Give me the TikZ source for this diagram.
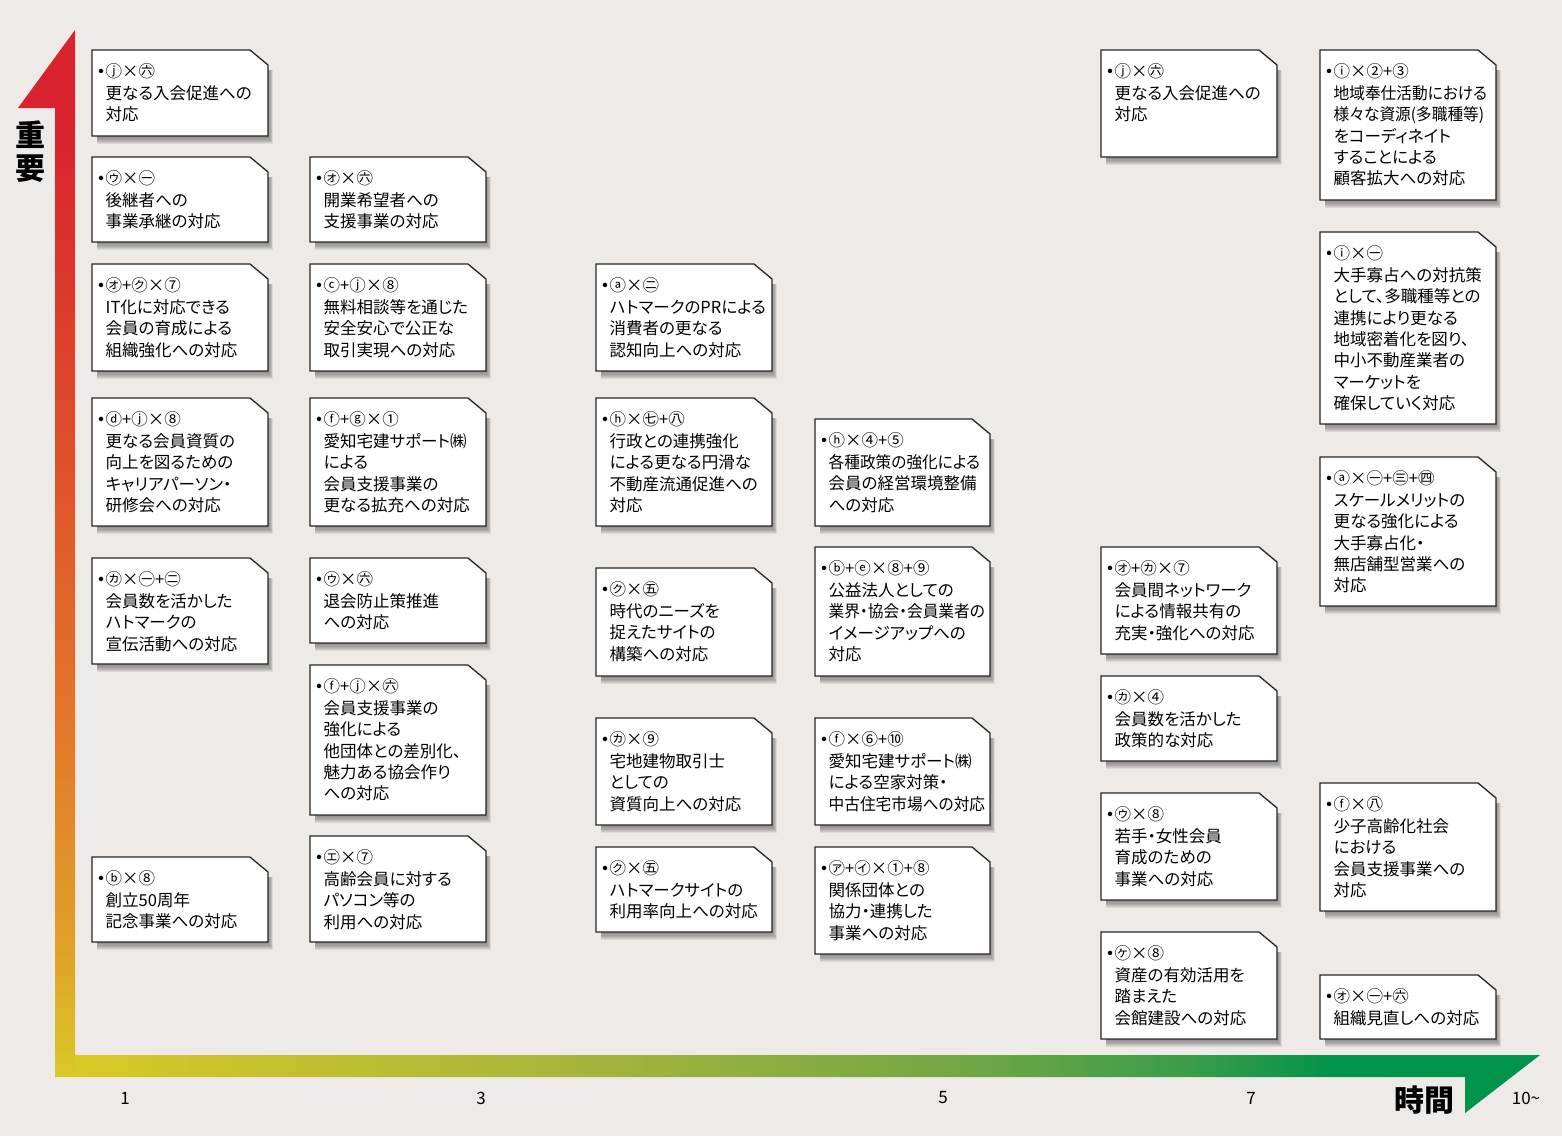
\documentclass[tikz,border=0pt]{standalone}
\usepackage{graphicx}
\usepackage{fontspec}
\setmainfont{Noto Sans CJK JP}[RawFeature=+palt]
\definecolor{bg}{HTML}{EDEAE7}
\definecolor{axred}{HTML}{D8222D}
\definecolor{axredtwo}{HTML}{DB352C}
\definecolor{axredor}{HTML}{DF552B}
\definecolor{axorange}{HTML}{E37A2A}
\definecolor{axgold}{HTML}{DFA229}
\definecolor{axyellow}{HTML}{D9C926}
\definecolor{hxa}{HTML}{A3B43C}
\definecolor{hxb}{HTML}{74A744}
\definecolor{hxc}{HTML}{3A9D49}
\definecolor{axgreen}{HTML}{00934A}
\pgfdeclareverticalshading{vaxis}{100bp}{color(0bp)=(axyellow); color(25bp)=(axyellow); color(31bp)=(axgold); color(41bp)=(axorange); color(53bp)=(axredor); color(64bp)=(axredtwo); color(71bp)=(axred); color(100bp)=(axred)}
\pgfdeclarehorizontalshading{haxis}{100bp}{color(0bp)=(axyellow); color(25bp)=(axyellow); color(43bp)=(hxa); color(55bp)=(hxb); color(63bp)=(hxc); color(68bp)=(axgreen); color(100bp)=(axgreen)}
\tikzset{
  memobox/.style={draw=black!85, line width=1.3pt, fill=white, line join=miter},
  memotext/.style={anchor=north west, inner sep=0pt, align=left, font=\fontsize{16.5}{21.4}\selectfont},
  axnum/.style={inner sep=0pt, font=\fontsize{17}{17}\selectfont},
  axlabel/.style={inner sep=0pt, align=center, font=\fontsize{30}{33}\selectfont\bfseries}
}
\newcommand\sq[1]{\scalebox{0.95}[1]{#1}}
\newcommand\sy[1]{\rule{0pt}{14pt}\llap{\fontsize{16}{16}\selectfont\bfseries ・\hspace{0.5pt}}{\fontsize{16.5}{21.4}\selectfont #1}}
\newcommand\memo[7]{%
  \foreach \k in {1,...,7}{\fill[black,opacity=0.07] (#2+5,#3+20) rectangle (#4+0.7*\k,#5+1.2*\k);}
  \draw[memobox] (#2,#3) -- (#4-18,#3) -- (#4,#3+15) -- (#4,#5) -- (#2,#5) -- cycle;
  \node[memotext] (#1) at (#2+13.5,#3+13.7) {\sy{#6}\\#7};
}
\begin{document}
\begin{tikzpicture}[x=1pt,y=-1pt]
\useasboundingbox[fill=bg] (0,0) rectangle (1562,1136);
% axes
\shade[shading=vaxis] (18,108) -- (75,30) -- (75,1077) -- (55,1077) -- (55,108) -- cycle;
\shade[shading=haxis] (75,1055) -- (1540,1055) -- (1465,1113) -- (1465,1077) -- (75,1077) -- cycle;
\node[axlabel] (imp) at (30,152) {重\\要};
\node[axlabel] (time) at (1424,1100) {時間};
\node[axnum] (n1) at (125,1098) {1};
\node[axnum] (n3) at (481,1098) {3};
\node[axnum] (n5) at (943,1098) {5};
\node[axnum] (n7) at (1251,1098) {7};
\node[axnum] (n10) at (1526,1098) {10\textasciitilde};
% column 1
\memo{A1}{92}{50}{268}{136}{ⓙ×㊅}{更なる入会促進への\\対応}
\memo{A2}{92}{157}{268}{242}{㋒×㊀}{後継者への\\事業承継の対応}
\memo{A3}{92}{264}{268}{371}{㋔+㋗×⑦}{IT化に対応できる\\会員の育成による\\組織強化への対応}
\memo{A4}{92}{398}{268}{526}{ⓓ+ⓙ×⑧}{更なる会員資質の\\向上を図るための\\キャリアパーソン・\\研修会への対応}
\memo{A5}{92}{558}{268}{664}{㋕×㊀+㊁}{会員数を活かした\\ハトマークの\\宣伝活動への対応}
\memo{A6}{92}{857}{268}{942}{ⓑ×⑧}{創立50周年\\記念事業への対応}
% column 2
\memo{B1}{310}{157}{486}{242}{㋔×㊅}{開業希望者への\\支援事業の対応}
\memo{B2}{310}{264}{486}{371}{ⓒ+ⓙ×⑧}{無料相談等を通じた\\安全安心で公正な\\取引実現への対応}
\memo{B3}{310}{398}{486}{526}{ⓕ+ⓖ×①}{愛知宅建サポート㈱\\による\\会員支援事業の\\更なる拡充への対応}
\memo{B4}{310}{558}{486}{643}{㋒×㊅}{退会防止策推進\\への対応}
\memo{B5}{310}{665}{486}{815}{ⓕ+ⓙ×㊅}{会員支援事業の\\強化による\\他団体との差別化、\\魅力ある協会作り\\への対応}
\memo{B6}{310}{836}{486}{942}{㋓×⑦}{高齢会員に対する\\パソコン等の\\利用への対応}
% column 3
\memo{C1}{596}{264}{772}{371}{ⓐ×㊁}{ハトマークのPRによる\\消費者の更なる\\認知向上への対応}
\memo{C2}{596}{398}{772}{526}{ⓗ×㊆+㊇}{行政との連携強化\\による更なる円滑な\\不動産流通促進への\\対応}
\memo{C3}{596}{568}{772}{676}{㋗×㊄}{時代のニーズを\\捉えたサイトの\\構築への対応}
\memo{C4}{596}{718}{772}{825}{㋕×⑨}{宅地建物取引士\\としての\\資質向上への対応}
\memo{C5}{596}{847}{772}{932}{㋗×㊄}{ハトマークサイトの\\利用率向上への対応}
% column 4
\memo{D1}{815}{419}{990}{526}{ⓗ×④+⑤}{\sq{各種政策の強化による}\\会員の経営環境整備\\への対応}
\memo{D2}{815}{547}{990}{676}{ⓑ+ⓔ×⑧+⑨}{公益法人としての\\\sq{業界・協会・会員業者の}\\イメージアップへの\\対応}
\memo{D3}{815}{718}{990}{825}{ⓕ×⑥+⑩}{愛知宅建サポート㈱\\による空家対策・\\\sq{中古住宅市場への対応}}
\memo{D4}{815}{847}{990}{954}{㋐+㋑×①+⑧}{関係団体との\\協力・連携した\\事業への対応}
% column 5
\memo{E1}{1101}{50}{1277}{157}{ⓙ×㊅}{更なる入会促進への\\対応}
\memo{E2}{1101}{547}{1277}{654}{㋔+㋕×⑦}{会員間ネットワーク\\による情報共有の\\充実・強化への対応}
\memo{E3}{1101}{676}{1277}{761}{㋕×④}{会員数を活かした\\政策的な対応}
\memo{E4}{1101}{793}{1277}{900}{㋒×⑧}{若手・女性会員\\育成のための\\事業への対応}
\memo{E5}{1101}{932}{1277}{1039}{㋘×⑧}{資産の有効活用を\\踏まえた\\会館建設への対応}
% column 6
\memo{F1}{1320}{50}{1496}{200}{ⓘ×②+③}{\sq{地域奉仕活動における}\\\sq{様々な資源(多職種等)}\\をコーディネイト\\することによる\\顧客拡大への対応}
\memo{F2}{1320}{232}{1496}{424}{ⓘ×㊀}{大手寡占への対抗策\\として、多職種等との\\連携により更なる\\地域密着化を図り、\\中小不動産業者の\\マーケットを\\確保していく対応}
\memo{F3}{1320}{457}{1496}{606}{ⓐ×㊀+㊂+㊃}{スケールメリットの\\更なる強化による\\大手寡占化・\\無店舗型営業への\\対応}
\memo{F4}{1320}{783}{1496}{911}{ⓕ×㊇}{少子高齢化社会\\における\\会員支援事業への\\対応}
\memo{F5}{1320}{975}{1496}{1039}{㋔×㊀+㊅}{組織見直しへの対応}
\end{tikzpicture}
\end{document}
